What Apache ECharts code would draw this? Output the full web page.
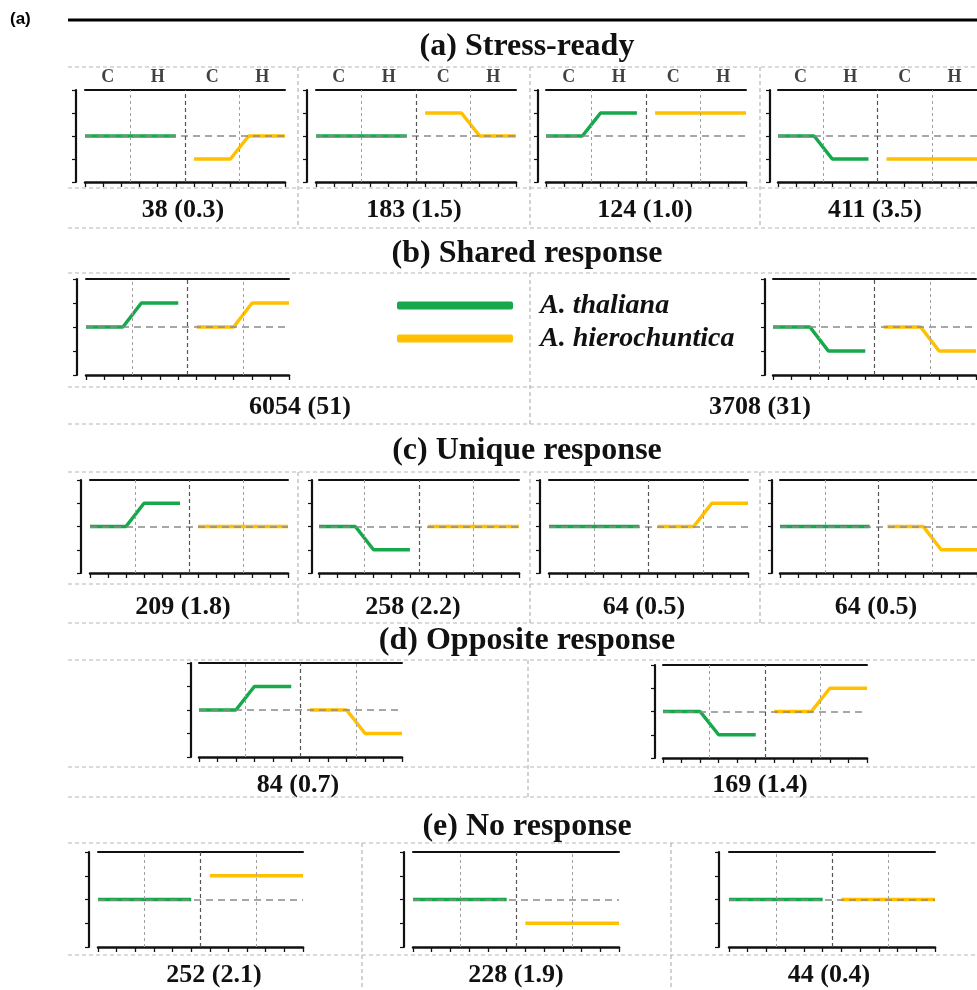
<!DOCTYPE html>
<html><head><meta charset="utf-8">
<script src="https://cdn.jsdelivr.net/npm/echarts@6/dist/echarts.min.js"></script>
<style>html,body{margin:0;padding:0;background:#fff}#c{width:977px;height:990px}</style>
</head><body><div id="c"></div>
<script>
// ---------------- data ----------------
const sectionTitles = ['(a) Stress-ready', '(b) Shared response', '(c) Unique response', '(d) Opposite response', '(e) No response'];
const seriesNames = ['A. thaliana', 'A. hierochuntica'];
const headerLabels = ['C', 'H', 'C', 'H'];
const thalianaTimes = [0, 1, 2, 3, 4, 5];
const hierochunticaTimes = [6, 7, 8, 9, 10, 11];
const phaseBounds = [0, 2.5, 5.5, 8.5, 11];
const panelCounts = ['38 (0.3)', '183 (1.5)', '124 (1.0)', '411 (3.5)',
  '6054 (51)', '3708 (31)',
  '209 (1.8)', '258 (2.2)', '64 (0.5)', '64 (0.5)',
  '84 (0.7)', '169 (1.4)',
  '252 (2.1)', '228 (1.9)', '44 (0.4)'];
const panelSection = [0, 0, 0, 0, 1, 1, 2, 2, 2, 2, 3, 3, 4, 4, 4];
const thalianaProfiles = [
  [0, 0, 0, 0, 0, 0], [0, 0, 0, 0, 0, 0], [0, 0, 0, 1, 1, 1], [0, 0, 0, -1, -1, -1],
  [0, 0, 0, 1, 1, 1], [0, 0, 0, -1, -1, -1],
  [0, 0, 0, 1, 1, 1], [0, 0, 0, -1, -1, -1], [0, 0, 0, 0, 0, 0], [0, 0, 0, 0, 0, 0],
  [0, 0, 0, 1, 1, 1], [0, 0, 0, -1, -1, -1],
  [0, 0, 0, 0, 0, 0], [0, 0, 0, 0, 0, 0], [0, 0, 0, 0, 0, 0]];
const hierochunticaProfiles = [
  [-1, -1, -1, 0, 0, 0], [1, 1, 1, 0, 0, 0], [1, 1, 1, 1, 1, 1], [-1, -1, -1, -1, -1, -1],
  [0, 0, 0, 1, 1, 1], [0, 0, 0, -1, -1, -1],
  [0, 0, 0, 0, 0, 0], [0, 0, 0, 0, 0, 0], [0, 0, 0, 1, 1, 1], [0, 0, 0, -1, -1, -1],
  [0, 0, 0, -1, -1, -1], [0, 0, 0, 1, 1, 1],
  [1, 1, 1, 1, 1, 1], [-1, -1, -1, -1, -1, -1], [0, 0, 0, 0, 0, 0]];

// ---------------- layout ----------------
const GREEN = '#17a84b', YELLOW = '#ffc000';
const SERIF = '"Liberation Serif", "Times New Roman", serif';
const gridBoxes = [ // left, top, width, height, yAxisOffset
  [85, 90, 200, 92, 9], [316, 90, 200, 92, 9], [546, 90, 200, 92, 8], [778, 90, 200, 92, 8],
  [86, 279, 203, 96, 9], [773, 279, 203, 96, 8],
  [90, 480, 198, 93, 9], [319, 480, 200, 93, 7], [549, 480, 199, 93, 9], [780, 480, 200, 93, 8],
  [199, 663, 203, 94, 8], [663, 665, 204, 93, 8],
  [98, 852, 205, 95, 9], [413, 852, 206, 95, 9], [729, 852, 206, 95, 10]];
const labelCenters = [183, 414, 645, 875, 300, 760, 183, 413, 644, 876, 298, 760, 214, 516, 829];
const labelRowY = [210, 407, 607, 785, 975];
const titleRowY = [47, 254, 451, 641, 827];
const hSeps = [67, 188, 228, 273, 387, 424, 472, 584, 623, 660, 767, 797, 843, 955];
const vSeps = [[298, 67, 228], [530, 67, 228], [760, 67, 228], [530, 273, 424],
  [298, 472, 623], [530, 472, 623], [760, 472, 623], [528, 660, 797], [362, 843, 990], [671, 843, 990]];

const grid = [], xAxis = [], yAxis = [], series = [], graphic = [];
gridBoxes.forEach((b, i) => {
  grid.push({left: b[0], top: b[1], width: b[2], height: b[3], containLabel: false});
  xAxis.push({gridIndex: i, type: 'value', min: 0, max: 11, interval: 1, position: 'bottom',
    axisLine: {show: true, onZero: false, lineStyle: {color: '#111', width: 2.5}},
    axisTick: {show: true, length: 5, lineStyle: {color: '#111', width: 1.3}},
    axisLabel: {show: false}, splitLine: {show: false}});
  xAxis.push({gridIndex: i, type: 'value', min: 0, max: 11, position: 'top',
    axisLine: {show: true, onZero: false, lineStyle: {color: '#111', width: 2}},
    axisTick: {show: false}, axisLabel: {show: false}, splitLine: {show: false}});
  yAxis.push({gridIndex: i, type: 'value', min: -2, max: 2, interval: 1, offset: b[4],
    axisLine: {show: true, onZero: false, lineStyle: {color: '#111', width: 2.2}},
    axisTick: {show: true, length: 4, lineStyle: {color: '#111', width: 1.2}},
    axisLabel: {show: false}, splitLine: {show: false}});
  const guide = {
    silent: true, symbol: 'none', label: {show: false}, animation: false,
    data: [
      {yAxis: 0, lineStyle: {color: '#8a8a8a', type: [7, 5], width: 1.5}},
      {xAxis: phaseBounds[1], lineStyle: {color: '#a0a0a0', type: [3, 3], width: 1}},
      {xAxis: phaseBounds[2], lineStyle: {color: '#555', type: [4, 3], width: 1.2}},
      {xAxis: phaseBounds[3], lineStyle: {color: '#a0a0a0', type: [3, 3], width: 1}}
    ]
  };
  series.push({name: seriesNames[0], type: 'line', xAxisIndex: 2 * i, yAxisIndex: i,
    data: thalianaProfiles[i].map((v, k) => [thalianaTimes[k], v]),
    showSymbol: false, color: GREEN, lineStyle: {color: GREEN, width: 3.5}, z: 3,
    markLine: guide});
  series.push({name: seriesNames[1], type: 'line', xAxisIndex: 2 * i, yAxisIndex: i,
    data: hierochunticaProfiles[i].map((v, k) => [hierochunticaTimes[k], v]),
    showSymbol: false, color: YELLOW, lineStyle: {color: YELLOW, width: 3.5}, z: 3});
  if (panelSection[i] === 0) {
    series.push({name: 'header', type: 'scatter', xAxisIndex: 2 * i, yAxisIndex: i,
      clip: false, symbolSize: 1, itemStyle: {color: 'transparent'}, silent: true,
      data: headerLabels.map((t, k) => [(phaseBounds[k] + phaseBounds[k + 1]) / 2, 2, t]),
      label: {show: true, position: 'top', distance: 3, formatter: p => p.value[2],
        fontFamily: SERIF, fontWeight: 'bold', fontSize: 18, color: '#111'}});
  }
  graphic.push({type: 'text', x: labelCenters[i], y: labelRowY[panelSection[i]],
    style: {text: panelCounts[i], font: 'bold 26px ' + SERIF, fill: '#111',
      textAlign: 'center', textVerticalAlign: 'middle'}});
});

sectionTitles.forEach((t, r) => {
  graphic.push({type: 'text', x: 527, y: titleRowY[r],
    style: {text: t, font: 'bold 32px ' + SERIF, fill: '#111', textAlign: 'center', textVerticalAlign: 'middle'}});
});
hSeps.forEach(y => graphic.push({type: 'line', shape: {x1: 68, y1: y, x2: 977, y2: y},
  style: {stroke: '#b5b5b5', lineWidth: 1.2, lineDash: [4, 3]}}));
vSeps.forEach(v => graphic.push({type: 'line', shape: {x1: v[0], y1: v[1], x2: v[0], y2: v[2]},
  style: {stroke: '#b5b5b5', lineWidth: 1.2, lineDash: [4, 3]}}));
graphic.push({type: 'line', shape: {x1: 68, y1: 20, x2: 977, y2: 20}, style: {stroke: '#000', lineWidth: 3}});
graphic.push({type: 'text', x: 10, y: 19, style: {text: '(a)', font: 'bold 17px "Liberation Sans", Arial, sans-serif',
  fill: '#000', textVerticalAlign: 'middle'}});

const chart = echarts.init(document.getElementById('c'), null, {renderer: 'canvas'});
chart.setOption({
  animation: false,
  backgroundColor: '#fff',
  grid, xAxis, yAxis, series, graphic,
  legend: {
    data: seriesNames, orient: 'vertical', left: 397, top: 291, padding: 0,
    icon: 'roundRect', itemWidth: 116, itemHeight: 8, itemGap: 4,
    textStyle: {fontFamily: SERIF, fontStyle: 'italic', fontWeight: 'bold', fontSize: 28,
      color: '#111', lineHeight: 29, padding: [0, 0, 0, 22]}
  }
});
</script></body></html>
